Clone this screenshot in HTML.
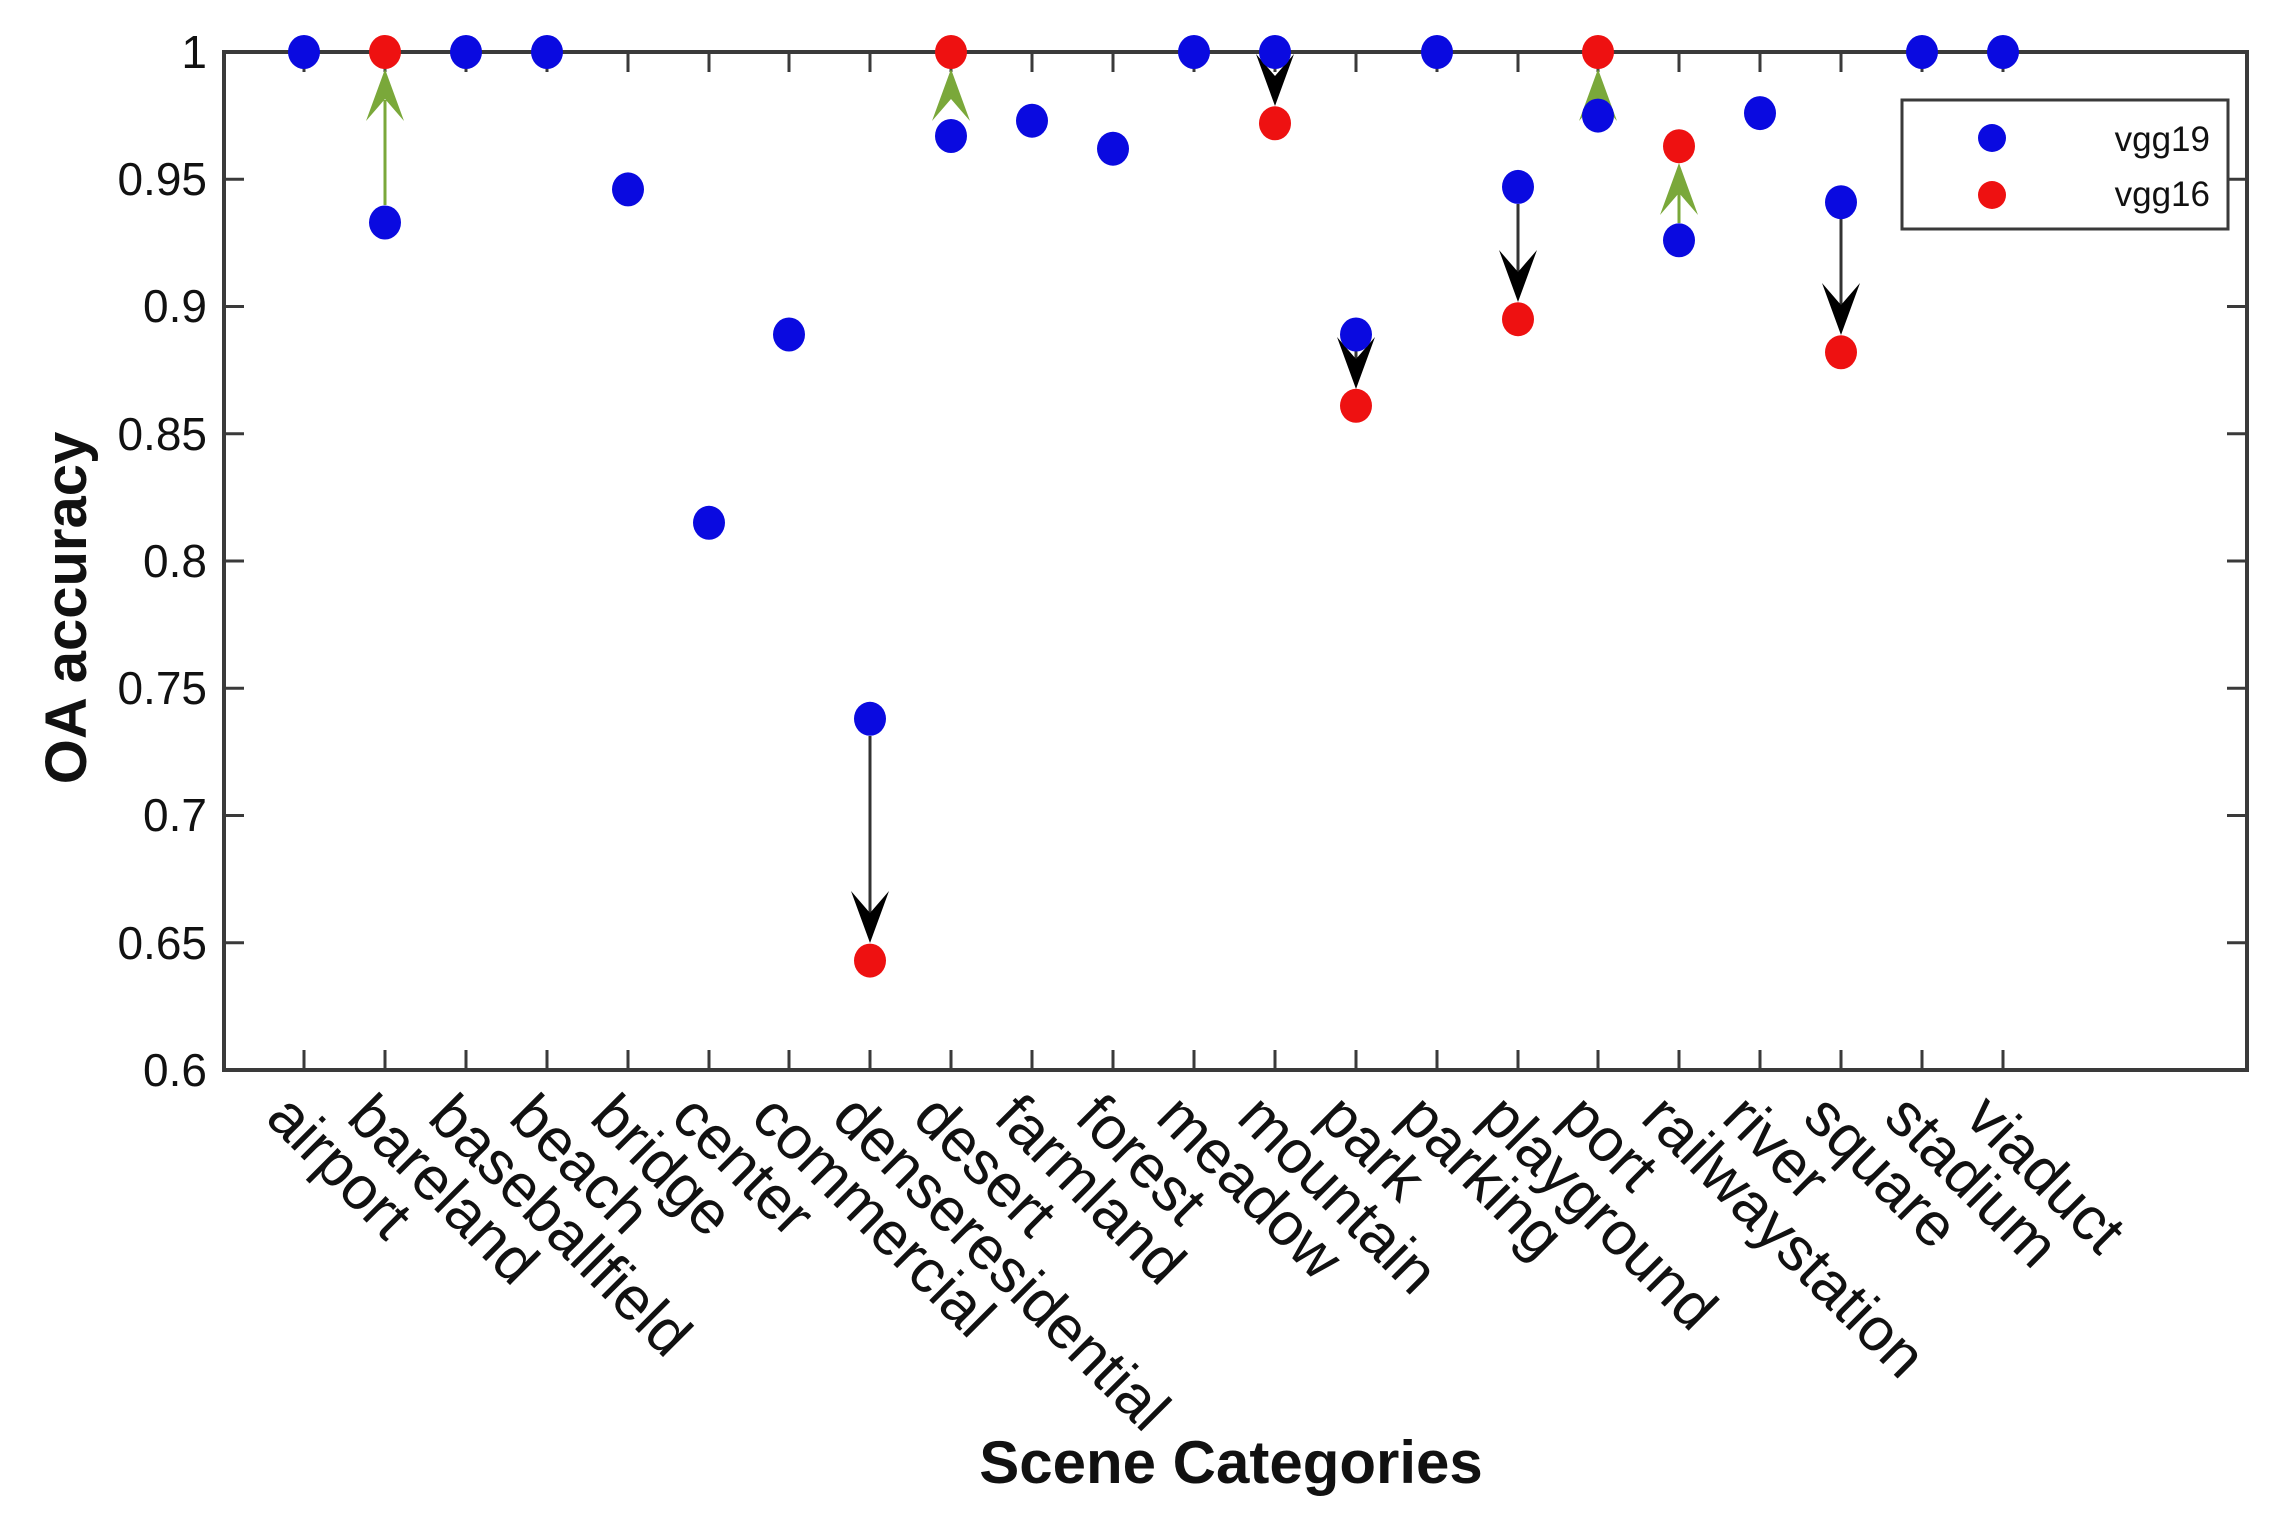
<!DOCTYPE html>
<html><head><meta charset="utf-8"><style>
html,body{margin:0;padding:0;background:#fff}
svg{display:block}
text{font-family:"Liberation Sans",Arial,sans-serif;fill:#111}
</style></head><body>
<svg width="2285" height="1514" viewBox="0 0 2285 1514" xmlns="http://www.w3.org/2000/svg">
<rect width="2285" height="1514" fill="#fff"/>
<rect x="224" y="52" width="2023" height="1018" fill="none" stroke="#3a3a3a" stroke-width="4"/>
<g stroke="#3a3a3a" stroke-width="3">
<path d="M224,179.25h20M224,306.5h20M224,433.75h20M224,561h20M224,688.25h20M224,815.5h20M224,942.75h20"/>
<path d="M2247,179.25h-20M2247,306.5h-20M2247,433.75h-20M2247,561h-20M2247,688.25h-20M2247,815.5h-20M2247,942.75h-20"/>
<path d="M304,1070v-20M385,1070v-20M466,1070v-20M547,1070v-20M628,1070v-20M709,1070v-20M789,1070v-20M870,1070v-20M951,1070v-20M1032,1070v-20M1113,1070v-20M1194,1070v-20M1275,1070v-20M1356,1070v-20M1437,1070v-20M1518,1070v-20M1598,1070v-20M1679,1070v-20M1760,1070v-20M1841,1070v-20M1922,1070v-20M2003,1070v-20"/>
<path d="M304,52v20M385,52v20M466,52v20M547,52v20M628,52v20M709,52v20M789,52v20M870,52v20M951,52v20M1032,52v20M1113,52v20M1194,52v20M1275,52v20M1356,52v20M1437,52v20M1518,52v20M1598,52v20M1679,52v20M1760,52v20M1841,52v20M1922,52v20M2003,52v20"/>
</g>
<g font-size="46" text-anchor="end">
<text x="207" y="68">1</text>
<text x="207" y="195">0.95</text>
<text x="207" y="322">0.9</text>
<text x="207" y="450">0.85</text>
<text x="207" y="577">0.8</text>
<text x="207" y="704">0.75</text>
<text x="207" y="831">0.7</text>
<text x="207" y="959">0.65</text>
<text x="207" y="1086">0.6</text>
</g>
<g font-size="61">
<text transform="translate(264,1120) rotate(45)">airport</text>
<text transform="translate(345,1120) rotate(45)">bareland</text>
<text transform="translate(426,1120) rotate(45)">baseballfield</text>
<text transform="translate(507,1120) rotate(45)">beach</text>
<text transform="translate(588,1120) rotate(45)">bridge</text>
<text transform="translate(669,1120) rotate(45)">center</text>
<text transform="translate(749,1120) rotate(45)">commercial</text>
<text transform="translate(830,1120) rotate(45)">denseresidential</text>
<text transform="translate(911,1120) rotate(45)">desert</text>
<text transform="translate(992,1120) rotate(45)">farmland</text>
<text transform="translate(1073,1120) rotate(45)">forest</text>
<text transform="translate(1154,1120) rotate(45)">meadow</text>
<text transform="translate(1235,1120) rotate(45)">mountain</text>
<text transform="translate(1316,1120) rotate(45)">park</text>
<text transform="translate(1397,1120) rotate(45)">parking</text>
<text transform="translate(1478,1120) rotate(45)">playground</text>
<text transform="translate(1558,1120) rotate(45)">port</text>
<text transform="translate(1639,1120) rotate(45)">railwaystation</text>
<text transform="translate(1720,1120) rotate(45)">river</text>
<text transform="translate(1801,1120) rotate(45)">square</text>
<text transform="translate(1882,1120) rotate(45)">stadium</text>
<text transform="translate(1963,1120) rotate(45)">viaduct</text>
</g>
<text x="1231" y="1483" font-size="60" font-weight="bold" text-anchor="middle">Scene Categories</text>
<text transform="translate(86,608) rotate(-90)" font-size="58" font-weight="bold" text-anchor="middle">OA accuracy</text>
<g stroke="#7aa83a" stroke-width="3">
<path d="M385,205V100M1679,223V185"/>
</g>
<g fill="#7aa83a">
<path d="M385,69L366,121L385,99L404,121Z"/>
<path d="M951,69L932,121L951,99L970,121Z"/>
<path d="M1598,69L1579,121L1598,99L1617,121Z"/>
<path d="M1679,163L1660,215L1679,193L1698,215Z"/>
</g>
<g stroke="#333" stroke-width="3">
<path d="M870,736V921M1518,204V280M1841,219V313M1356,351V367"/>
</g>
<g fill="#000">
<path d="M870,943L851,891L870,913L889,891Z"/>
<path d="M1275,106L1256,54L1275,76L1294,54Z"/>
<path d="M1356,389L1337,337L1356,359L1375,337Z"/>
<path d="M1518,302L1499,250L1518,272L1537,250Z"/>
<path d="M1841,335L1822,283L1841,305L1860,283Z"/>
</g>
<g fill="#0a0ae0">
<ellipse cx="304" cy="52" rx="16" ry="17"/>
<ellipse cx="385" cy="222.5" rx="16" ry="17"/>
<ellipse cx="466" cy="52" rx="16" ry="17"/>
<ellipse cx="547" cy="52" rx="16" ry="17"/>
<ellipse cx="628" cy="189.4" rx="16" ry="17"/>
<ellipse cx="709" cy="522.8" rx="16" ry="17"/>
<ellipse cx="789" cy="334.5" rx="16" ry="17"/>
<ellipse cx="870" cy="718.8" rx="16" ry="17"/>
<ellipse cx="951" cy="136" rx="16" ry="17"/>
<ellipse cx="1032" cy="120.7" rx="16" ry="17"/>
<ellipse cx="1113" cy="148.7" rx="16" ry="17"/>
<ellipse cx="1194" cy="52" rx="16" ry="17"/>
<ellipse cx="1275" cy="52" rx="16" ry="17"/>
<ellipse cx="1356" cy="334.5" rx="16" ry="17"/>
<ellipse cx="1437" cy="52" rx="16" ry="17"/>
<ellipse cx="1518" cy="186.9" rx="16" ry="17"/>
<ellipse cx="1598" cy="115.6" rx="16" ry="17"/>
<ellipse cx="1679" cy="240.3" rx="16" ry="17"/>
<ellipse cx="1760" cy="113.1" rx="16" ry="17"/>
<ellipse cx="1841" cy="202.2" rx="16" ry="17"/>
<ellipse cx="1922" cy="52" rx="16" ry="17"/>
<ellipse cx="2003" cy="52" rx="16" ry="17"/>
</g>
<g fill="#ee1111">
<ellipse cx="385" cy="52" rx="16" ry="17"/>
<ellipse cx="870" cy="960.6" rx="16" ry="17"/>
<ellipse cx="951" cy="52" rx="16" ry="17"/>
<ellipse cx="1275" cy="123.3" rx="16" ry="17"/>
<ellipse cx="1356" cy="405.8" rx="16" ry="17"/>
<ellipse cx="1518" cy="319.2" rx="16" ry="17"/>
<ellipse cx="1598" cy="52" rx="16" ry="17"/>
<ellipse cx="1679" cy="146.2" rx="16" ry="17"/>
<ellipse cx="1841" cy="352.3" rx="16" ry="17"/>
</g>
<rect x="1902" y="100" width="326" height="129" fill="#fff" stroke="#3a3a3a" stroke-width="3"/>
<circle cx="1992" cy="138" r="14" fill="#0a0ae0"/>
<circle cx="1992" cy="195" r="14" fill="#ee1111"/>
<g font-size="35" text-anchor="end">
<text x="2210" y="151">vgg19</text>
<text x="2210" y="206">vgg16</text>
</g>
</svg>
</body></html>
